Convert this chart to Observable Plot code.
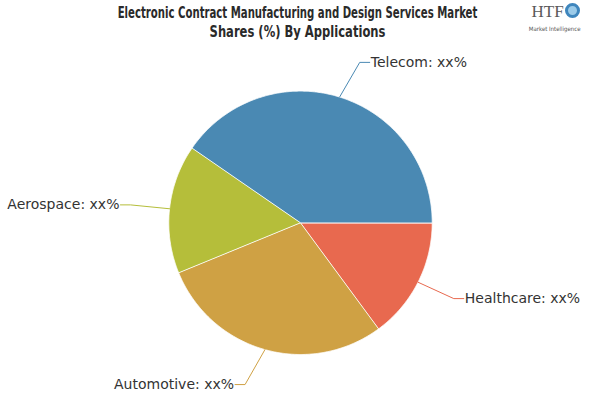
<!DOCTYPE html>
<html>
<head>
<meta charset="utf-8">
<script src="https://cdn.jsdelivr.net/npm/d3@7"></script>
<script src="https://cdn.jsdelivr.net/npm/@observablehq/plot@0.6"></script>
<style>
  html, body { margin: 0; padding: 0; background: #fff; }
  #chart { width: 600px; height: 400px; }
</style>
</head>
<body>
<div id="chart"></div>
<script>
// ---- Data ----
const names = ["Healthcare", "Automotive", "Aerospace", "Telecom"];
const shares = [14.9, 28.9, 15.8, 40.4];
const valueLabels = ["xx%", "xx%", "xx%", "xx%"];
const colors = ["#e8694f", "#cfa144", "#b5be3a", "#4a89b3"];
const titleLines = ["Electronic Contract Manufacturing and Design Services Market", "Shares (%) By Applications"];

// ---- Layout ----
const W = 600, H = 400;
const cx = 300, cy = 222.3, R = 131.7;   // pie centre and radius in px
const labelYR = 168 / R, labelXR = 171 / R, tail = 10 / R;
const titleWidths = [360, 176];
const titleX = 297, titleY0 = 12, titleStep = 19;

const arcs = d3.pie().sort(null).startAngle(Math.PI / 2).endAngle(Math.PI / 2 + 2 * Math.PI)(shares);

// slice polygons (in radius units, y up)
const slicePts = [];
arcs.forEach((a, i) => {
  slicePts.push({name: names[i], x: 0, y: 0});
  const n = Math.max(2, Math.ceil((a.endAngle - a.startAngle) / (Math.PI / 360)));
  for (let k = 0; k <= n; k++) {
    const t = a.startAngle + (a.endAngle - a.startAngle) * k / n;
    slicePts.push({name: names[i], x: Math.sin(t), y: Math.cos(t)});
  }
});

// leader lines and labels
const leaderPts = [];
const labels = [];
arcs.forEach((a, i) => {
  const m = (a.startAngle + a.endAngle) / 2;
  const s = Math.sign(Math.sin(m)) || 1;
  const ey = labelYR * Math.cos(m);
  const ex = s * Math.sqrt(labelXR * labelXR - ey * ey);
  leaderPts.push({name: names[i], x: Math.sin(m), y: Math.cos(m)});
  leaderPts.push({name: names[i], x: ex, y: ey});
  leaderPts.push({name: names[i], x: ex + s * tail, y: ey});
  labels.push({name: names[i], text: `${names[i]}: ${valueLabels[i]}`, x: ex + s * tail, y: ey, anchor: s > 0 ? "start" : "end"});
});

const labelFont = {fontSize: 14, fontFamily: "DejaVu Sans", fill: "#333"};

const chart = Plot.plot({
  width: W, height: H,
  margin: 0,
  x: {domain: [-cx / R, (W - cx) / R], range: [0, W], axis: null},
  y: {domain: [-(H - cy) / R, cy / R], range: [H, 0], axis: null},
  color: {domain: names, range: colors},
  style: {background: "#fff"},
  marks: [
    Plot.line(slicePts, {x: "x", y: "y", z: "name", fill: "name", stroke: "#ffffff", strokeWidth: 1, strokeOpacity: 0.8, curve: "linear-closed"}),
    Plot.line(leaderPts, {x: "x", y: "y", z: "name", stroke: "name", strokeWidth: 1}),
    Plot.text(labels.filter(d => d.anchor === "start"), {x: "x", y: "y", text: "text", textAnchor: "start", dx: 1, ...labelFont}),
    Plot.text(labels.filter(d => d.anchor === "end"), {x: "x", y: "y", text: "text", textAnchor: "end", dx: -1, ...labelFont}),
    Plot.text(titleLines, {frameAnchor: "top", fontSize: 16, fontWeight: "bold", fontFamily: "'DejaVu Sans Condensed', sans-serif", fill: "#2a2a2a", text: d => d, className: "ttl"}),
    Plot.text(["HTF"], {frameAnchor: "top-right", dx: -69, dy: 4, textAnchor: "start", lineAnchor: "top", fontSize: 17, fontFamily: "'Liberation Serif', serif", fill: "#5a5a5a", text: d => d}),
    Plot.dot([0], {frameAnchor: "top-right", dx: -28, dy: 10, r: 6, stroke: "#3f86bd", strokeWidth: 3, fill: "#9ccbe9"}),
    Plot.text(["Market Intelligence"], {frameAnchor: "top-right", dx: -20, dy: 26, textAnchor: "end", fontSize: 6, fontFamily: "'Liberation Sans Narrow', 'DejaVu Sans Condensed', sans-serif", fill: "#555", text: d => d})
  ]
});
document.getElementById("chart").appendChild(chart);
// position title lines and squeeze them horizontally to the reference's condensed width
d3.select(chart).selectAll("g.ttl text").each(function(d, i) {
  const el = d3.select(this);
  el.attr("x", 0).attr("y", 0).attr("dy", "0.35em").attr("text-anchor", "middle");
  const w = this.getComputedTextLength();
  const s = w > 0 ? titleWidths[i] / w : 1;
  el.attr("transform", `translate(${titleX},${titleY0 + i * titleStep}) scale(${s},1)`);
});
</script>
</body>
</html>
